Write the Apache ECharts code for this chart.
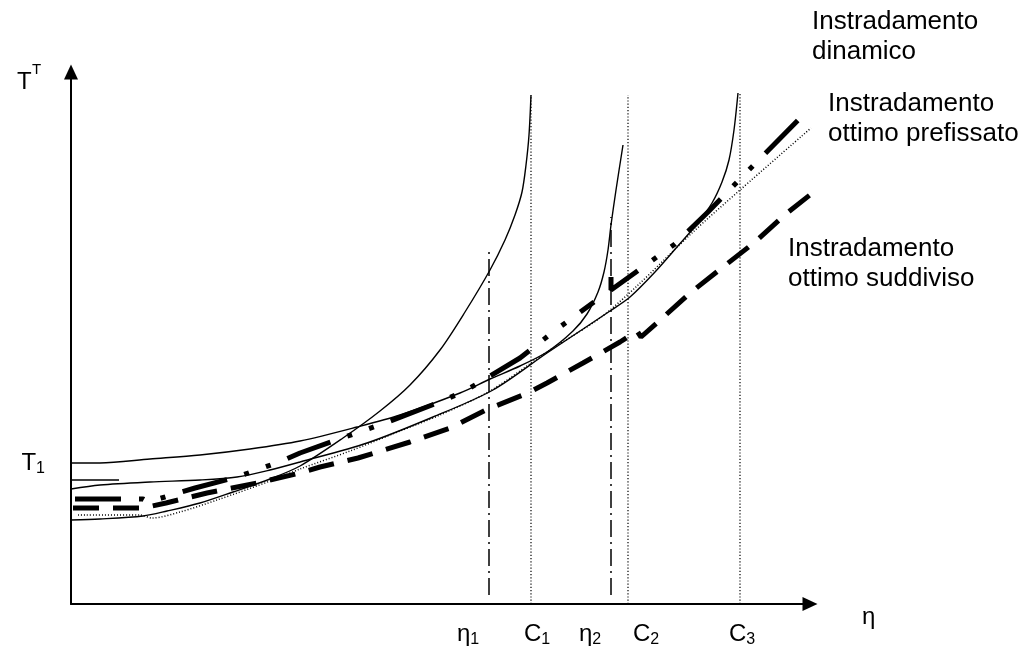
<!DOCTYPE html>
<html><head><meta charset="utf-8">
<script src="https://cdn.jsdelivr.net/npm/echarts@6/dist/echarts.min.js"></script>
<style>html,body{margin:0;padding:0;background:#fff}#c{width:1028px;height:650px}</style>
</head><body><div id="c"></div>
<script>
// Units: eta (traffic) 0..739 on x, T (delay) 0..532 on y (schematic units)
const curveC1 = [[0,84],[29,85],[72,88],[96,93],[129,101],[162,112],[199,125],[229,138],[272,166],[309,193],[339,219],[369,254],[394,292],[419,334],[434,364],[444,389],[451,412],[455,439],[458,469],[460,509]];
const curveC2 = [[0,141],[29,141],[79,145],[129,149],[179,155],[229,163],[286,177],[329,189],[389,211],[419,225],[449,238],[476,252],[502,273],[516,290],[527,312],[533,332],[537,354],[540,379],[545,414],[552,459]];
const curveC3 = [[0,115],[29,119],[79,122],[129,124],[166,127],[199,134],[229,142],[296,161],[362,187],[422,214],[476,251],[509,273],[539,293],[559,307],[584,332],[606,357],[626,380],[641,401],[651,422],[658,444],[663,474],[667,511]];
const shortLevel = [[0,124],[48,124]];
const dinamico = [[7,89],[69,89],[81,86],[109,92],[146,104],[202,124],[229,135],[279,153],[329,173],[369,189],[419,213],[476,252],[529,286],[566,318],[622,372],[669,414],[740,476]];
const prefissato = [[4,105],[72,105],[77,102],[124,116],[166,127],[211,143],[229,151],[274,167],[317,182],[361,199],[392,212],[409,222],[449,246],[486,275],[504,288],[523,302],[531,'-'],[540,327],[540,314],[579,342],[604,360],[637,392],[669,425],[733,490]];
const suddiviso = [[2,96],[72,96],[95,101],[136,111],[186,121],[229,131],[249,137],[287,146],[339,162],[379,176],[417,195],[457,211],[476,221],[512,241],[549,262],[566,273],[570,267],[587,282],[619,311],[652,337],[684,362],[716,391],[749,417]];
// Reference abscissae (eta1, C1, eta2, C2, C3) and the height each guide line reaches
const markNames = ['η1','C1','η2','C2','C3'];
const markX = [418, 460, 540, 557, 669];
const markBottom = [9, 0, 9, 0, 0];
const markTop = [352, 509, 387, 509, 511];
// Tick label anchors on the eta axis, and T1 on the delay axis
const xTickLabels = ['η1','C1','η2','C2','C3'];
const xTickValues = [397, 466, 519, 575, 671];
const yTickLabels = ['T1'];
const yTickValues = [141];

const FONT = '"Liberation Sans", Arial, sans-serif';
const rich = {
  m: {fontSize: 24, fontFamily: FONT, color: '#000', lineHeight: 28},
  s: {fontSize: 16, fontFamily: FONT, color: '#000', lineHeight: 20, verticalAlign: 'bottom'}
};
function subText(t){ return '{m|' + t[0] + '}{s|' + t.slice(1) + '}'; }

const thin = {color: '#000', width: 1.4, type: 'solid'};
function lineSeries(data, style, smooth){
  return {type: 'line', data: data, symbol: 'none', smooth: smooth ? 0.3 : false, connectNulls: false,
    clip: false, silent: true, animation: false, lineStyle: Object.assign({cap: 'butt'}, style)};
}
const series = [
  lineSeries(curveC1, thin, true),
  lineSeries(curveC2, thin, true),
  lineSeries(curveC3, thin, true),
  lineSeries(shortLevel, thin, false),
  lineSeries(dinamico, {color: '#000', width: 1.5, type: [1, 2]}, true),
  lineSeries(prefissato, {color: '#000', width: 5, type: [46, 18, 5, 18, 5, 18]}, false),
  lineSeries(suddiviso, {color: '#000', width: 5, type: [26, 14]}, false)
];
markNames.forEach((n, i) => {
  const isEta = n[0] === 'η';
  series.push(lineSeries([[markX[i], markBottom[i]], [markX[i], markTop[i]]],
    isEta ? {color: '#000', width: 1.5, type: [17, 5, 2, 5]} : {color: '#000', width: 1.2, type: [1.2, 2]}, false));
});

const chart = echarts.init(document.getElementById('c'), null, {renderer: 'canvas'});
chart.setOption({
  backgroundColor: '#fff',
  animation: false,
  grid: {left: 71, top: 72, width: 739, height: 532, containLabel: false},
  xAxis: {
    type: 'value', min: 0, max: 739,
    splitLine: {show: false}, axisTick: {show: false},
    axisLine: {show: true, symbol: ['none', 'triangle'], symbolSize: [14, 15], lineStyle: {color: '#000', width: 2}},
    axisLabel: {show: true, customValues: xTickValues, margin: 16, rich: rich,
      formatter: v => subText(xTickLabels[xTickValues.indexOf(v)] || '')}
  },
  yAxis: {
    type: 'value', min: 0, max: 532,
    splitLine: {show: false}, axisTick: {show: false},
    axisLine: {show: true, symbol: ['none', 'triangle'], symbolSize: [14, 15], lineStyle: {color: '#000', width: 2}},
    axisLabel: {show: true, customValues: yTickValues, margin: 26, rich: rich,
      formatter: v => subText(yTickLabels[yTickValues.indexOf(v)] || '')}
  },
  graphic: [
    {type: 'text', left: 17, top: 70, style: {text: 'T', font: '24px ' + FONT, fill: '#000'}},
    {type: 'text', left: 32, top: 62, style: {text: 'T', font: '15px ' + FONT, fill: '#000'}},
    {type: 'text', left: 862, top: 605, style: {text: 'η', font: '24px ' + FONT, fill: '#000'}},
    {type: 'text', left: 812, top: 7, style: {text: 'Instradamento\ndinamico', font: '26px ' + FONT, lineHeight: 30, fill: '#000'}},
    {type: 'text', left: 828, top: 89, style: {text: 'Instradamento\nottimo prefissato', font: '26px ' + FONT, lineHeight: 30, fill: '#000'}},
    {type: 'text', left: 788, top: 234, style: {text: 'Instradamento\nottimo suddiviso', font: '26px ' + FONT, lineHeight: 30, fill: '#000'}}
  ],
  series: series
});
</script></body></html>
